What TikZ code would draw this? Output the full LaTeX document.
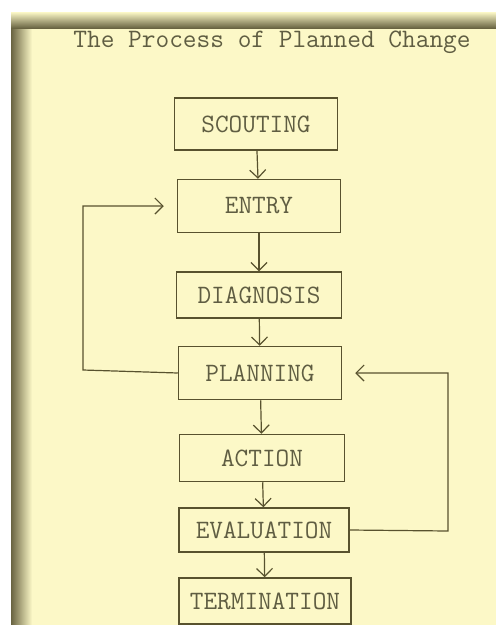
\documentclass[tikz,border=0pt]{standalone}
\usepackage{tikz}
\usetikzlibrary{arrows.meta,positioning}
\definecolor{paper}{RGB}{252,248,199}
\definecolor{edge}{RGB}{105,100,66}
\definecolor{ink}{RGB}{88,82,46}
\definecolor{type}{RGB}{95,93,66}
\tikzstyle{block} = [rectangle, draw=ink, line width=1.5pt, text=type,
    minimum width=163pt, minimum height=50pt, inner sep=0pt,
    font=\ttfamily\fontsize{26.5}{30}\selectfont]
\tikzstyle{line} = [draw, line width=1.2pt, color=ink,
    -{Straight Barb[length=8pt,width=16pt,line width=1.2pt]}]

\begin{document}
\begin{tikzpicture}[x=1pt, y=-1pt, node distance=80pt]
    % Paper and scan shadow
    \useasboundingbox (0,0) rectangle (496,625);
    \fill[white] (0,0) rectangle (496,625);
    \fill[paper] (11,12) rectangle (496,625);
    \shade[left color=edge, right color=paper] (11,12) rectangle (32,625);
    \shade[bottom color=edge, top color=paper] (11,12) rectangle (496,28);

    \node [font=\ttfamily\fontsize{26.6}{30}\selectfont, text=type] (title) at (272,42) {The Process of Planned Change};

    % Place nodes
    \node [block, minimum height=52pt] (scouting) at (256,124) {SCOUTING};
    \node [block, below of=scouting, node distance=82pt, xshift=3pt, minimum height=53pt] (entry) {ENTRY};
    \node [block, below of=entry, node distance=89pt, minimum height=46pt, minimum width=165pt] (diagnosis) {DIAGNOSIS};
    \node [block, below of=diagnosis, node distance=78pt, xshift=1pt, minimum height=53pt] (planning) {PLANNING};
    \node [block, below of=planning, node distance=85pt, xshift=2pt, minimum height=47pt, minimum width=165pt] (action) {ACTION};
    \node [block, below of=action, node distance=72pt, xshift=2pt, minimum height=44pt, minimum width=170pt] (evaluation) {EVALUATION};
    \node [block, below of=evaluation, node distance=71pt, xshift=1pt, minimum height=46pt, minimum width=172pt] (termination) {TERMINATION};

    % Draw edges
    \path [line] (scouting) -- (entry);
    \path [line] (entry) -- (diagnosis);
    \path [line] (diagnosis) -- (planning);
    \path [line] (planning) -- (action);
    \path [line] (action) -- (evaluation);
    \path [line] (evaluation) -- (termination);

    % Feedback loops
    \coordinate (leftturn) at (83,370);
    \coordinate (rightturn) at (448,531);
    \path [line, shorten >=13pt] (planning.west) -- (leftturn) |- (entry.west);
    \path [line, shorten >=13pt] (evaluation.east) -- (rightturn) |- (planning.east);
\end{tikzpicture}
\end{document}
